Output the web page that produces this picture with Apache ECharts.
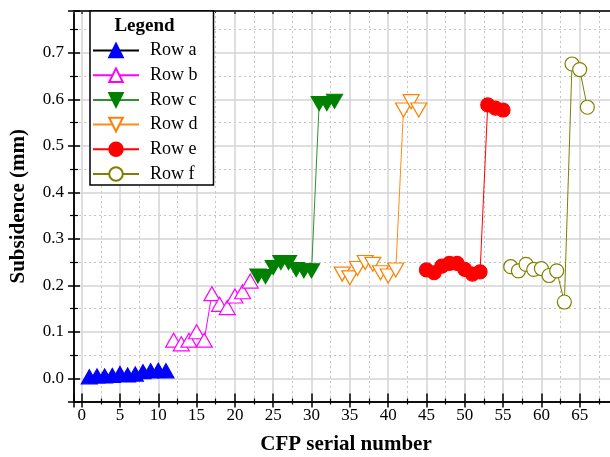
<!DOCTYPE html>
<html>
<head>
<meta charset="utf-8">
<script src="https://cdn.jsdelivr.net/npm/echarts@6/dist/echarts.min.js"></script>
<style>
  html, body { margin: 0; padding: 0; background: #fff; overflow: hidden; }
  #chart { width: 610px; height: 457px; }
</style>
</head>
<body>
<div id="chart"></div>
<script>
// CFP serial numbers, one block of eleven per row
const serialA = [1, 2, 3, 4, 5, 6, 7, 8, 9, 10, 11];
const serialB = [12, 13, 14, 15, 16, 17, 18, 19, 20, 21, 22];
const serialC = [23, 24, 25, 26, 27, 28, 29, 30, 31, 32, 33];
const serialD = [34, 35, 36, 37, 38, 39, 40, 41, 42, 43, 44];
const serialE = [45, 46, 47, 48, 49, 50, 51, 52, 53, 54, 55];
const serialF = [56, 57, 58, 59, 60, 61, 62, 63, 64, 65, 66];

// Subsidence (mm) for each row
const subsidenceA = [0.003, 0.005, 0.005, 0.006, 0.010, 0.007, 0.009, 0.014, 0.016, 0.017, 0.016];
const subsidenceB = [0.082, 0.074, 0.082, 0.100, 0.082, 0.182, 0.159, 0.152, 0.177, 0.186, 0.209];
const subsidenceC = [0.220, 0.219, 0.238, 0.249, 0.249, 0.234, 0.231, 0.231, 0.591, 0.591, 0.596];
const subsidenceD = [0.224, 0.216, 0.236, 0.249, 0.245, 0.227, 0.220, 0.233, 0.577, 0.595, 0.577];
const subsidenceE = [0.233, 0.227, 0.241, 0.247, 0.247, 0.234, 0.224, 0.229, 0.588, 0.581, 0.577];
const subsidenceF = [0.240, 0.231, 0.245, 0.234, 0.236, 0.221, 0.231, 0.164, 0.676, 0.664, 0.583];

const rowNames = ['Row a', 'Row b', 'Row c', 'Row d', 'Row e', 'Row f'];

const FONT = '"Liberation Serif", "Times New Roman", serif';
const triUp = 'triangle';
const triDown = 'path://M0,0L2,0L1,1.75Z';

const pairs = (xs, ys) => xs.map((x, i) => [x, ys[i]]);

function row(name, xs, ys, symbol, size, fill, stroke, lineColor) {
  return {
    name: name,
    type: 'line',
    xAxisIndex: 0,
    yAxisIndex: 0,
    data: pairs(xs, ys),
    symbol: symbol,
    symbolSize: size,
    showAllSymbol: true,
    lineStyle: { color: lineColor, width: 1 },
    itemStyle: { color: fill, borderColor: stroke, borderWidth: 1.2 },
    emphasis: { disabled: true },
    animation: false
  };
}

const series = [
  row(rowNames[0], serialA, subsidenceA, triUp, [16, 14], '#0000ff', '#0000ff', '#000000'),
  row(rowNames[1], serialB, subsidenceB, triUp, [16, 14], '#ffffff', '#ff00ff', '#ff00ff'),
  row(rowNames[2], serialC, subsidenceC, triDown, [16, 14], '#008000', '#008000', '#2f912f'),
  row(rowNames[3], serialD, subsidenceD, triDown, [16, 14], '#ffffff', '#ff8000', '#ff8c1a'),
  row(rowNames[4], serialE, subsidenceE, 'circle', 14, '#ff0000', '#ff0000', '#ff0000'),
  row(rowNames[5], serialF, subsidenceF, 'circle', 14, '#ffffff', '#808000', '#808000')
];

const axisLineStyle = { color: '#000', width: 1.5 };

function xAxis(extra) {
  return Object.assign({
    type: 'value',
    min: -1,
    max: 70,
    minInterval: 5,
    maxInterval: 5,
    splitNumber: 14,
    axisLine: { show: true, onZero: false, lineStyle: axisLineStyle },
    axisLabel: { show: false },
    splitLine: { show: false },
    minorSplitLine: { show: false }
  }, extra);
}

function yAxis(extra) {
  return Object.assign({
    type: 'value',
    min: -0.05,
    max: 0.79,
    minInterval: 0.1,
    maxInterval: 0.1,
    splitNumber: 8,
    axisLine: { show: true, onZero: false, lineStyle: axisLineStyle },
    axisLabel: { show: false },
    splitLine: { show: false },
    minorSplitLine: { show: false }
  }, extra);
}

const option = {
  backgroundColor: '#ffffff',
  animation: false,
  // the plot area runs past the right edge of the canvas
  grid: {
    left: 74, top: 11, width: 544, bottom: 55.5,
    containLabel: false,
    outerBoundsMode: 'none'
  },
  xAxis: [
    xAxis({
      position: 'bottom',
      name: 'CFP serial number',
      nameLocation: 'middle',
      nameGap: 33,
      nameTextStyle: { fontFamily: FONT, fontSize: 21, fontWeight: 'bold', color: '#000' },
      axisTick: { show: true, inside: false, length: 6, lineStyle: { color: '#000', width: 1.5 } },
      minorTick: { show: true, splitNumber: 2, length: 3, lineStyle: { color: '#000', width: 1.2 } },
      axisLabel: {
        show: true, margin: 6, showMinLabel: false, showMaxLabel: false,
        fontFamily: FONT, fontSize: 17, color: '#000'
      },
      splitLine: { show: true, showMinLine: false, showMaxLine: false, lineStyle: { color: '#d4d4d4', width: 1.5 } },
      minorSplitLine: { show: true, lineStyle: { color: '#c4c4c4', width: 1, type: [2, 3] } }
    }),
    xAxis({
      position: 'bottom',
      axisTick: { show: true, inside: true, length: 8, lineStyle: { color: '#000', width: 1.5 } },
      minorTick: { show: true, splitNumber: 2, length: 3, lineStyle: { color: '#000', width: 1.2 } }
    }),
    xAxis({
      position: 'top',
      axisLine: { show: true, onZero: false, lineStyle: { color: '#333', width: 2 } },
      axisTick: { show: true, inside: true, length: 3, lineStyle: { color: '#333', width: 1.5 } },
      minorTick: { show: true, splitNumber: 2, length: 2, lineStyle: { color: '#333', width: 1 } }
    })
  ],
  yAxis: [
    yAxis({
      position: 'left',
      name: 'Subsidence (mm)',
      nameLocation: 'middle',
      nameGap: 45,
      nameTextStyle: { fontFamily: FONT, fontSize: 21, fontWeight: 'bold', color: '#000' },
      axisTick: { show: true, inside: false, length: 6, lineStyle: { color: '#000', width: 1.5 } },
      minorTick: { show: true, splitNumber: 2, length: 4, lineStyle: { color: '#000', width: 1.2 } },
      axisLabel: {
        show: true, margin: 10, showMinLabel: false, showMaxLabel: false,
        fontFamily: FONT, fontSize: 17, color: '#000',
        formatter: v => v.toFixed(1)
      },
      splitLine: { show: true, showMinLine: false, showMaxLine: false, lineStyle: { color: '#d4d4d4', width: 1.5 } },
      minorSplitLine: { show: true, lineStyle: { color: '#c4c4c4', width: 1, type: [2, 3] } }
    }),
    yAxis({
      position: 'left',
      axisTick: { show: true, inside: true, length: 6, lineStyle: { color: '#000', width: 1.5 } },
      minorTick: { show: true, splitNumber: 2, length: 4, lineStyle: { color: '#000', width: 1.2 } }
    })
  ],
  legend: {
    show: true,
    orient: 'vertical',
    left: 90,
    top: 11,
    padding: [30.5, 16, 2, 2],
    itemWidth: 46,
    itemHeight: 17,
    itemGap: 6.7,
    backgroundColor: '#ffffff',
    borderColor: '#000000',
    borderWidth: 1.5,
    borderRadius: 0,
    selectedMode: false,
    data: rowNames,
    textStyle: { fontFamily: FONT, fontSize: 18, color: '#000', lineHeight: 17, padding: [0, 0, 0, 6] }
  },
  graphic: [
    {
      type: 'text',
      x: 144.5,
      y: 26,
      z: 100,
      style: {
        text: 'Legend',
        font: 'bold 19px ' + FONT,
        fill: '#000',
        textAlign: 'center',
        textVerticalAlign: 'middle'
      }
    }
  ],
  series: series
};

const chart = echarts.init(document.getElementById('chart'), null, { renderer: 'canvas' });
chart.setOption(option);
</script>
</body>
</html>
